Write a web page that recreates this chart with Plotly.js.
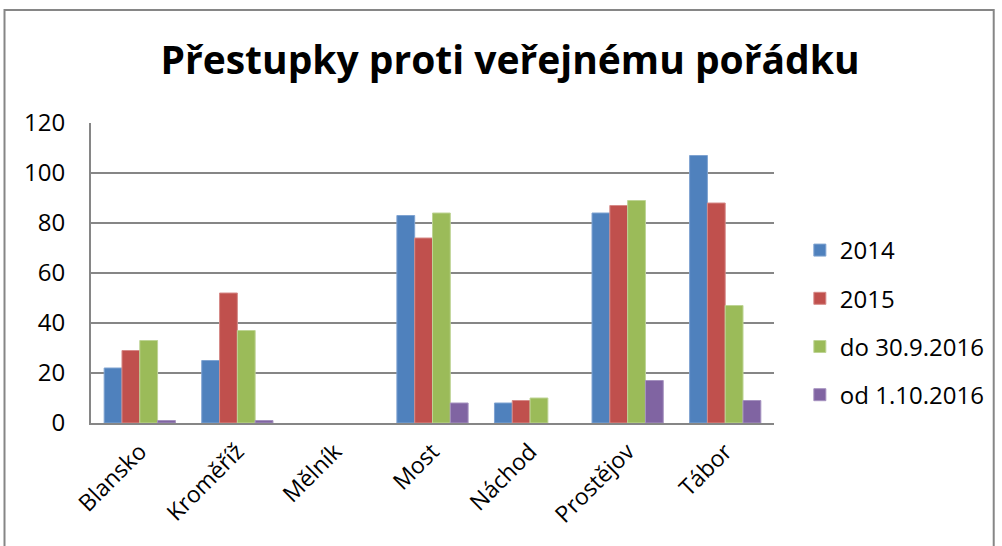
<!DOCTYPE html>
<html><head><meta charset="utf-8">
<script src="https://cdn.plot.ly/plotly-3.0.1.min.js"></script>
<style>html,body{margin:0;padding:0;background:#fff;}#chart{width:1002px;height:546px;}</style>
</head><body><div id="chart"></div>
<script>
const categories = ["Blansko","Kroměříž","Mělník","Most","Náchod","Prostějov","Tábor"];
const seriesNames = ["2014","2015","do 30.9.2016","od 1.10.2016"];
const v2014 = [22,25,0,83,8,84,107];
const v2015 = [29,52,0,74,9,87,88];
const vDo2016 = [33,37,0,84,10,89,47];
const vOd2016 = [1,1,0,8,0,17,9];
const colors = ["#4F81BD","#C0504D","#9BBB59","#8064A2"];
const edges = ["#7FA3D1","#D68A88","#BED495","#A592BF"];
const values = [v2014,v2015,vDo2016,vOd2016];

const traces = values.map((v,i)=>({
  type:'bar', x:categories, y:v, name:seriesNames[i],
  legendgroup:'g'+i,
  marker:{color:colors[i], line:{color:edges[i], width:v.map(d=>d>0?1:0)}},
  hoverinfo:'y'
}));

const L=91, R=778, T=123, B=423, W=1002, H=546;
const px = x => (x-L)/(R-L);
const py = y => (B-y)/(B-T);
const fam = '"Open Sans", "Liberation Sans", sans-serif';

const layout = {
  width:W, height:H,
  margin:{l:L, r:W-R, t:T, b:H-B, pad:0},
  paper_bgcolor:'#fff', plot_bgcolor:'#fff',
  font:{family:fam, color:'#000'},
  title:{text:'<b>Přestupky proti veřejnému pořádku</b>', x:510/W, xref:'container', xanchor:'center',
         y:1-60/H, yref:'container', yanchor:'middle',
         font:{size:39, family:fam, color:'#000'}},
  bargap:0.27, bargroupgap:0,
  xaxis:{type:'category', showline:true, linecolor:'#868686', linewidth:2,
         tickangle:-45, tickfont:{size:23}, ticks:'', showgrid:false, ticklabelstandoff:4},
  yaxis:{range:[0,120], dtick:20, showline:true, linecolor:'#868686', linewidth:2,
         gridcolor:'#868686', gridwidth:2, ticks:'', ticklabelstandoff:19,
         tickfont:{size:24}, zeroline:false},
  showlegend:true,
  legend:{x:px(804), y:py(228), xanchor:'left', yanchor:'top', font:{size:24},
          traceorder:'grouped', tracegroupgap:14, itemwidth:30, bgcolor:'rgba(0,0,0,0)'},
  shapes:[{type:'rect', xref:'paper', yref:'paper', x0:px(4), x1:px(999), y0:py(560), y1:py(10),
           line:{color:'#868686', width:2}, fillcolor:'rgba(0,0,0,0)', layer:'below'}]
};
Plotly.newPlot('chart', traces, layout, {displayModeBar:false, staticPlot:true});
</script></body></html>
